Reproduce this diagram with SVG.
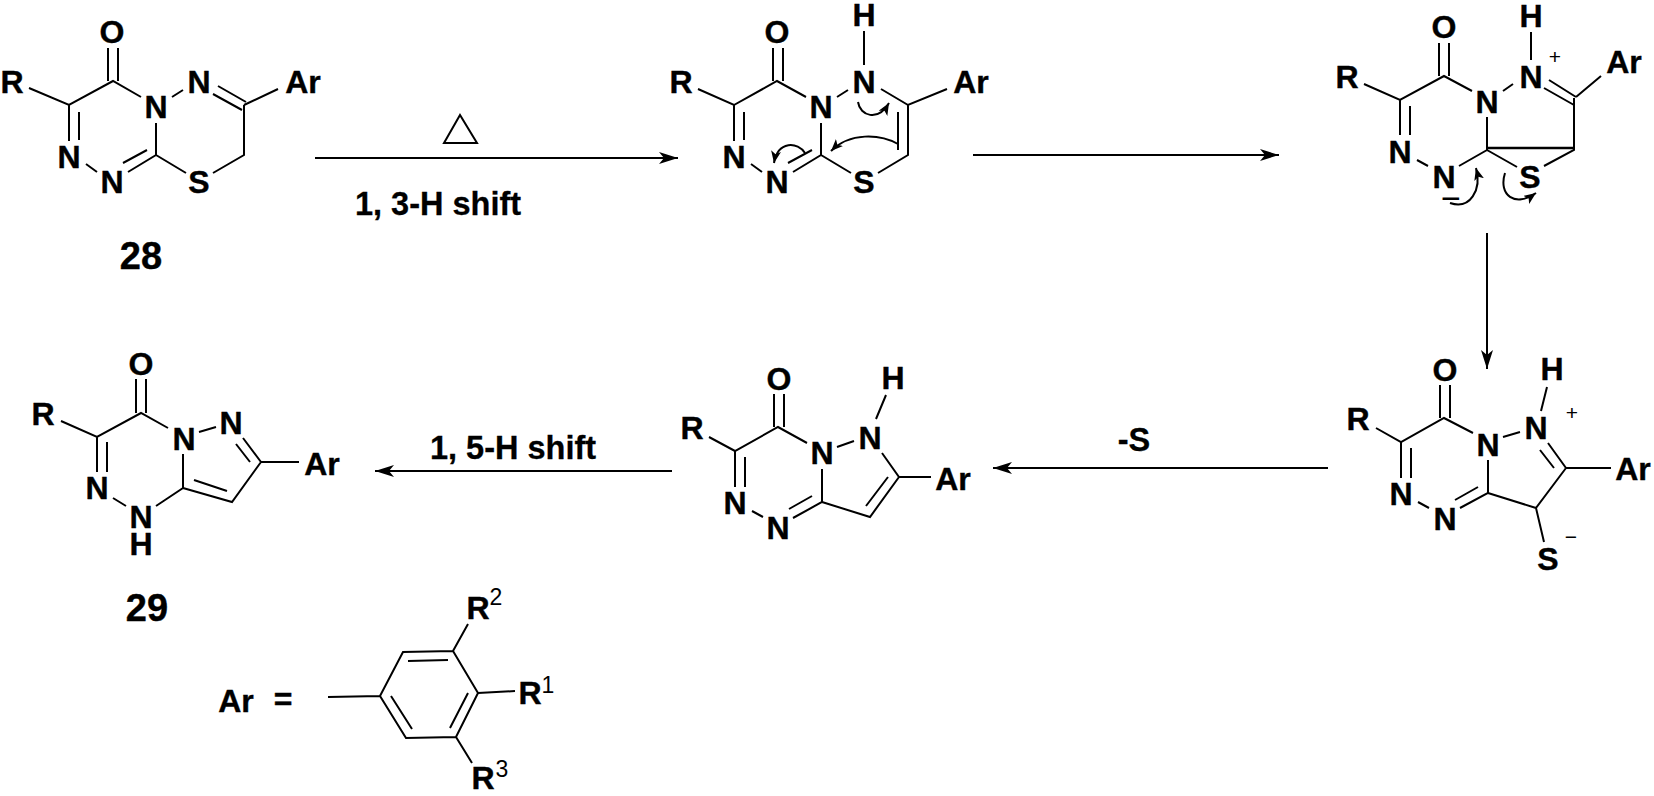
<svg xmlns="http://www.w3.org/2000/svg" width="1654" height="796" viewBox="0 0 1654 796">
<style>
text{font-family:"Liberation Sans",Arial,sans-serif;fill:#000}
.a{font-size:32px;font-weight:bold;text-anchor:middle;stroke:#000;stroke-width:.4}
.n{font-size:38px;font-weight:bold;text-anchor:middle;stroke:#000;stroke-width:.4}
.c{font-size:21px;text-anchor:middle}
.s{font-size:23px;text-anchor:middle}
.u{font-size:34px;text-anchor:middle}
.l{font-size:32.5px;font-weight:bold;text-anchor:middle;stroke:#000;stroke-width:.3}
.b{fill:none;stroke:#000;stroke-width:2}
.r{fill:none;stroke:#000;stroke-width:2}
.m{fill:none;stroke:#000;stroke-width:2}
</style>
<defs>
<marker id="ah" markerUnits="userSpaceOnUse" markerWidth="20" markerHeight="14" refX="19" refY="6" orient="auto"><path d="M0,0L19,6L0,12L5,6Z" fill="#000"/></marker>
<marker id="cv" markerUnits="userSpaceOnUse" markerWidth="14" markerHeight="12" refX="12" refY="5" orient="auto"><path d="M0,0L12,5L0,10L3,5Z" fill="#000"/></marker>
</defs>
<rect width="1654" height="796" fill="#fff"/>

<g id="mol28">
<path class="b" d="M29,88L69,105L113,81L141,97M108,81V48M118,81V48M172,97L183,90M213,94L242,110M218,86L246,102M244,105L278,89M244,105V155L213,173M156,155L186,173M156,123V155L128,172M147,150L123,163M86,164L97,172M69,105V141M79,112V140"/>
<text class="a" x="12" y="93">R</text><text class="a" x="112" y="43">O</text><text class="a" x="199" y="93">N</text><text class="a" x="156" y="118">N</text><text class="a" x="303" y="93">Ar</text><text class="a" x="69" y="168">N</text><text class="a" x="112" y="193">N</text><text class="a" x="199" y="193">S</text>
<text class="n" x="141" y="269">28</text>
</g>

<g id="mol-intermediate-1">
<path class="b" d="M698,89L734,105L777,81L806,97M773,81V48M783,81V48M837,97L848,90M864,31V65M881,89L908,105L947,89M908,105V155L878,173M898,112V150M821,155L851,173M821,123V155L793,172M812,150L788,163M751,164L762,172M734,105V141M744,112V140"/>
<text class="a" x="681" y="93">R</text><text class="a" x="777" y="43">O</text><text class="a" x="864" y="26">H</text><text class="a" x="864" y="93">N</text><text class="a" x="821" y="118">N</text><text class="a" x="971" y="93">Ar</text><text class="a" x="734" y="168">N</text><text class="a" x="777" y="193">N</text><text class="a" x="864" y="193">S</text>
<path class="m" marker-end="url(#cv)" d="M858,102C860,116 878,122 889,103"/>
<path class="m" marker-end="url(#cv)" d="M898,144C880,134 850,132 831,151"/>
<path class="m" marker-end="url(#cv)" d="M805,153C798,142 778,140 774,163"/>
</g>

<g id="mol-intermediate-2">
<path class="b" d="M1364,84L1400,100L1444,76L1472,91M1439,76V43M1449,76V43M1503,91L1513,84M1531,32V60M1549,80L1576,97M1544,88L1574,105M1576,97L1601,76M1574,98V150L1544,166M1487,150L1517,167M1487,117V150L1459,166M1417,160L1428,166M1400,100V135M1410,106V135"/>
<path class="b" style="stroke-width:2.5" d="M1487,148H1574"/>
<text class="a" x="1347" y="88">R</text><text class="a" x="1444" y="38">O</text><text class="a" x="1531" y="27">H</text><text class="a" x="1531" y="88">N</text><text class="c" x="1555" y="64">+</text><text class="a" x="1624" y="73">Ar</text><text class="a" x="1487" y="113">N</text><text class="a" x="1400" y="163">N</text><text class="a" x="1444" y="188">N</text><text class="a" x="1530" y="188">S</text><text class="u" x="1451" y="210">−</text>
<path class="m" marker-end="url(#cv)" d="M1450,203C1470,210 1482,190 1476,168"/>
<path class="m" marker-end="url(#cv)" d="M1505,173C1498,195 1515,208 1536,193"/>
</g>

<g id="mol-intermediate-3">
<path class="b" d="M1376,428L1401,442L1444,418L1473,433M1440,418V385M1450,418V385M1503,437L1520,432M1547,387L1541,411M1548,443L1566,468M1540,450L1554,468M1566,468H1611M1566,468L1536,508L1544,542M1488,493L1536,508M1488,460V493L1460,508M1478,487L1455,500M1418,502L1429,508M1401,442V478M1411,448V478"/>
<text class="a" x="1358" y="430">R</text><text class="a" x="1445" y="381">O</text><text class="a" x="1552" y="380">H</text><text class="c" x="1572" y="420">+</text><text class="a" x="1536" y="439">N</text><text class="a" x="1488" y="456">N</text><text class="a" x="1401" y="505">N</text><text class="a" x="1445" y="530">N</text><text class="a" x="1548" y="570">S</text><text class="c" x="1571" y="544">−</text><text class="a" x="1633" y="480">Ar</text>
</g>

<g id="mol-intermediate-4">
<path class="b" d="M709,437L735,451L778,427L807,443M774,427V394M784,427V394M837,447L854,441M886,395L876,419M882,453L899,477H931M899,477L870,517L822,502M888,477L866,506M822,469V502L793,518M812,496L789,509M752,511L763,517M735,451V487M745,457V487"/>
<text class="a" x="692" y="439">R</text><text class="a" x="779" y="390">O</text><text class="a" x="893" y="389">H</text><text class="a" x="870" y="449">N</text><text class="a" x="822" y="464">N</text><text class="a" x="735" y="514">N</text><text class="a" x="778" y="539">N</text><text class="a" x="953" y="490">Ar</text>
</g>

<g id="mol29">
<path class="b" d="M61,421L97,437L141,413L168,428M136,413V379M146,413V379M199,432L216,427M243,438L261,462M236,444L250,462M261,462H299M261,462L232,502L183,488M194,480L227,491M183,454V488L156,506M113,498L126,506M97,437V472M107,442V472"/>
<text class="a" x="43" y="425">R</text><text class="a" x="141" y="375">O</text><text class="a" x="231" y="434">N</text><text class="a" x="184" y="450">N</text><text class="a" x="97" y="499">N</text><text class="a" x="141" y="528">N</text><text class="a" x="141" y="555">H</text><text class="a" x="322" y="475">Ar</text>
<text class="n" x="147" y="621">29</text>
</g>

<g id="ar-definition">
<path class="b" d="M328,697L380,696L403,652L453,651L478,693L456,737L406,738L380,696M408,661L448,660M468,693L450,728M391,696L412,729M453,651L468,624M478,693L515,691M456,737L472,763"/>
<text class="a" x="236" y="712">Ar</text><text class="a" x="283" y="710">=</text>
<text class="a" x="478" y="619">R</text><text class="s" x="496" y="605">2</text>
<text class="a" x="530" y="704">R</text><text class="s" x="548" y="693">1</text>
<text class="a" x="483" y="789">R</text><text class="s" x="502" y="777">3</text>
</g>

<g id="connectors">
<path class="r" marker-end="url(#ah)" d="M315,158H678"/>
<path class="r" marker-end="url(#ah)" d="M973,155H1279"/>
<path class="r" marker-end="url(#ah)" d="M1487,233V369"/>
<path class="r" marker-end="url(#ah)" d="M1328,468H993"/>
<path class="r" marker-end="url(#ah)" d="M672,471H375"/>
</g>

<g id="labels">
<path id="heat" d="M460,115L444,143H477Z" fill="#fff" stroke="#000" stroke-width="2"/>
<text class="l" x="438" y="215">1, 3-H shift</text>
<text class="l" x="1134" y="451">-S</text>
<text class="l" x="513" y="459">1, 5-H shift</text>
</g>
</svg>
